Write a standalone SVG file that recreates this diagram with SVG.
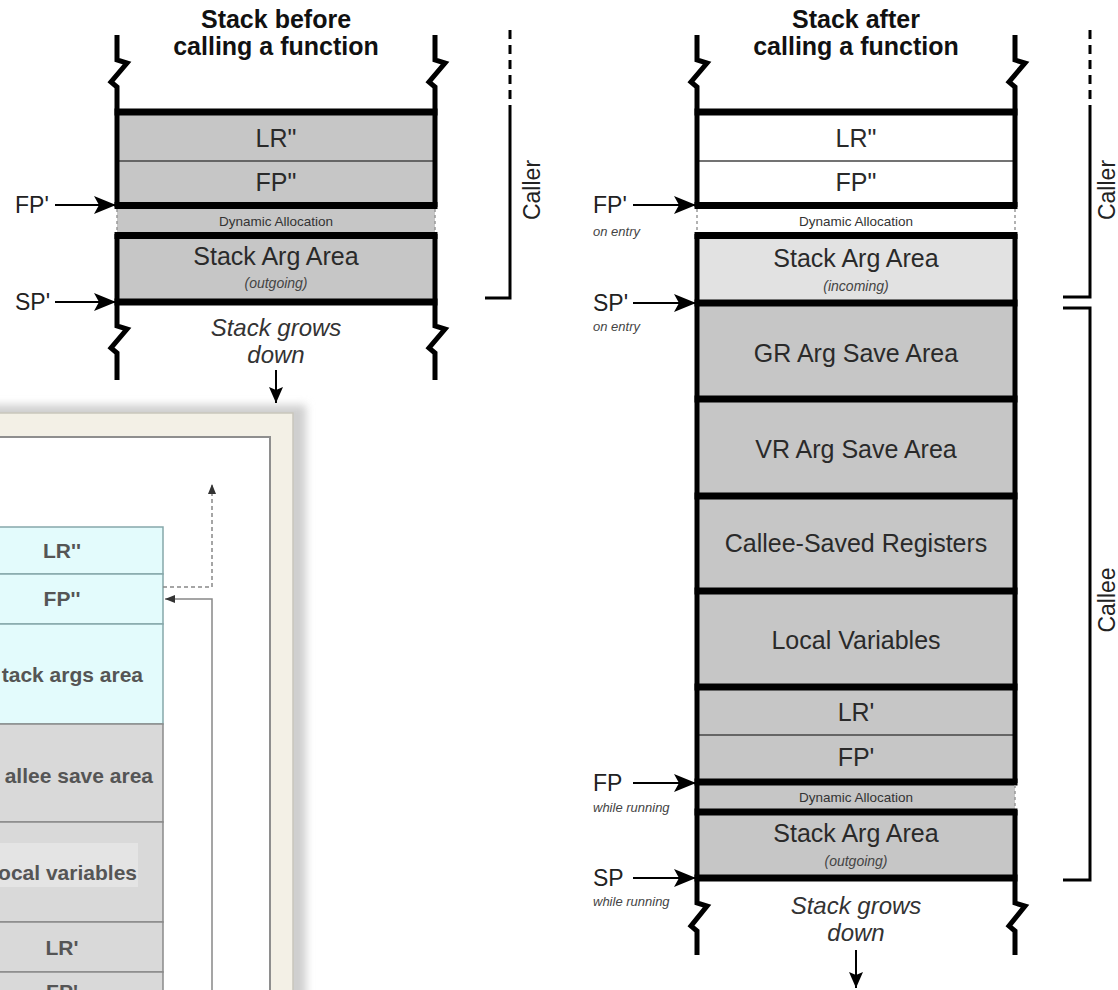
<svg xmlns="http://www.w3.org/2000/svg" width="1118" height="990" viewBox="0 0 1118 990">
<defs>
<style>
text{font-family:"Liberation Sans",Arial,sans-serif}
.title{font-size:25px;font-weight:bold;fill:#111;text-anchor:middle}
.cell{font-size:25px;fill:#2a2a2a;text-anchor:middle;dominant-baseline:central}
.small{font-size:13.5px;fill:#333;text-anchor:middle;dominant-baseline:central}
.sub{font-size:14px;font-style:italic;fill:#444;text-anchor:middle;dominant-baseline:central}
.ptr{font-size:23px;fill:#222;dominant-baseline:central}
.note{font-size:13px;font-style:italic;fill:#444}
.grow{font-size:24px;font-style:italic;fill:#333;text-anchor:middle}
.side{font-size:23px;fill:#222;text-anchor:middle;dominant-baseline:central}
.gray{fill:#c6c6c6}
.light{fill:#e2e2e2}
.white{fill:#fff}
.bar{fill:#000}
.wall{fill:none;stroke:#000;stroke-width:5;stroke-linejoin:miter}
.dyn{stroke:#999;stroke-width:1.5;stroke-dasharray:3 3}
.thin{stroke:#444;stroke-width:1.5}
.arrow{stroke:#000;stroke-width:2;fill:none}
.brk{fill:none;stroke:#000;stroke-width:3}
.dash{stroke-dasharray:9 6}
.pan{font-size:21px;font-weight:bold;fill:#555;dominant-baseline:central}
.cy{fill:#e3fbfc;stroke:#86a8aa;stroke-width:1.5}
.gy{fill:#d9d9d9;stroke:#8a8a8a;stroke-width:1.5}
.pl{fill:none;stroke:#888;stroke-width:1.5}
</style>
<marker id="ptr" markerUnits="userSpaceOnUse" markerWidth="22" markerHeight="18" refX="22" refY="9" orient="auto">
<path d="M0,0 L22,9 L0,18 L5,9 z" fill="#000"/>
</marker>
<marker id="down" markerUnits="userSpaceOnUse" markerWidth="16" markerHeight="14" refX="16" refY="7" orient="auto">
<path d="M0,0 L16,7 L0,14 L3,7 z" fill="#000"/>
</marker>
<marker id="sm" markerUnits="userSpaceOnUse" markerWidth="10" markerHeight="8" refX="10" refY="4" orient="auto">
<path d="M0,0 L10,4 L0,8 z" fill="#333"/>
</marker>
<filter id="blur" x="-10%" y="-10%" width="120%" height="120%"><feGaussianBlur stdDeviation="4"/></filter>
</defs>

<!-- bottom-left screenshot panel -->
<g id="panel">
<rect x="-20" y="405" width="326" height="600" fill="#cfcfcf" filter="url(#blur)"/>
<rect x="-10" y="413" width="303" height="590" fill="#f3f0e6" stroke="#c9c6bc" stroke-width="1.5"/>
<rect x="-10" y="437" width="280" height="570" fill="#fff" stroke="#8e8e8e" stroke-width="2"/>
<rect x="-5" y="527" width="168" height="47" class="cy"/>
<rect x="-5" y="574" width="168" height="50" class="cy"/>
<rect x="-5" y="624" width="168" height="100" class="cy"/>
<rect x="-5" y="724" width="168" height="98" class="gy"/>
<rect x="-5" y="822" width="168" height="100" class="gy"/>
<rect x="-5" y="922" width="168" height="50" class="gy"/>
<rect x="-5" y="972" width="168" height="40" class="gy"/>
<rect x="0" y="843" width="138" height="44" fill="#e4e4e4"/>
<text class="pan" x="62" y="550" text-anchor="middle">LR''</text>
<text class="pan" x="62" y="598" text-anchor="middle">FP''</text>
<text class="pan" x="143" y="674" text-anchor="end">tack args area</text>
<text class="pan" x="153" y="775" text-anchor="end">allee save area</text>
<text class="pan" x="137" y="872" text-anchor="end">ocal variables</text>
<text class="pan" x="62" y="947" text-anchor="middle">LR'</text>
<text x="62" y="999" text-anchor="middle" style="font-size:21px;font-weight:bold;fill:#555">FP'</text>
<path d="M163,587 H212 V484" class="pl" stroke-dasharray="4 3" marker-end="url(#sm)"/>
<path d="M212,990 V599 H165" class="pl" marker-end="url(#sm)"/>
</g>

<!-- left stack -->
<g id="stack-before">
<text class="title" x="276" y="28">Stack before</text>
<text class="title" x="276" y="55">calling a function</text>
<rect class="gray" x="117" y="112" width="318" height="190"/>
<rect class="bar" x="114.5" y="108.5" width="323" height="7"/>
<line class="thin" x1="117" y1="161" x2="435" y2="161"/>
<rect class="bar" x="114.5" y="202" width="323" height="7"/>
<rect class="bar" x="114.5" y="232" width="323" height="7"/>
<rect class="bar" x="114.5" y="298.5" width="323" height="7"/>
<path class="wall" d="M117,35 V60 L127,63 L111,82 L117,87 V207"/>
<path class="wall" d="M117,234 V326 L127,329 L111,348 L117,353 V380"/>
<path class="wall" d="M435,35 V60 L445,63 L429,82 L435,87 V207"/>
<path class="wall" d="M435,234 V326 L445,329 L429,348 L435,353 V380"/>
<line class="dyn" x1="117" y1="209" x2="117" y2="232"/>
<line class="dyn" x1="435" y1="209" x2="435" y2="232"/>
<text class="cell" x="276" y="138">LR"</text>
<text class="cell" x="276" y="182">FP"</text>
<text class="small" x="276" y="221">Dynamic Allocation</text>
<text class="cell" x="276" y="256">Stack Arg Area</text>
<text class="sub" x="276" y="283">(outgoing)</text>
<text class="grow" x="276" y="336">Stack grows</text>
<text class="grow" x="276" y="363">down</text>
<text class="ptr" x="15" y="205">FP'</text>
<text class="ptr" x="15" y="302">SP'</text>
<text class="side" transform="translate(532 190) rotate(-90)">Caller</text>
</g>

<!-- right stack -->
<g id="stack-after">
<text class="title" x="856" y="28">Stack after</text>
<text class="title" x="856" y="55">calling a function</text>
<rect class="white" x="697" y="112" width="318" height="124"/>
<rect class="light" x="697" y="236" width="318" height="66"/>
<rect class="gray" x="697" y="302" width="318" height="576"/>
<rect class="bar" x="694.5" y="108.5" width="323" height="7"/>
<line class="thin" x1="697" y1="161" x2="1015" y2="161"/>
<rect class="bar" x="694.5" y="202" width="323" height="7"/>
<rect class="bar" x="694.5" y="232" width="323" height="7"/>
<rect class="bar" x="694.5" y="299.5" width="323" height="7"/>
<rect class="bar" x="694.5" y="395.5" width="323" height="7"/>
<rect class="bar" x="694.5" y="492.5" width="323" height="7"/>
<rect class="bar" x="694.5" y="587.5" width="323" height="7"/>
<rect class="bar" x="694.5" y="683.5" width="323" height="7"/>
<line class="thin" x1="697" y1="735" x2="1015" y2="735"/>
<rect class="bar" x="694.5" y="778.5" width="323" height="7"/>
<rect class="bar" x="694.5" y="808.5" width="323" height="7"/>
<rect class="bar" x="694.5" y="874.5" width="323" height="7"/>
<path class="wall" d="M697,35 V60 L707,63 L691,82 L697,87 V207"/>
<path class="wall" d="M697,234 V903 L707,906 L691,926 L697,931 V955"/>
<path class="wall" d="M1015,35 V60 L1025,63 L1009,82 L1015,87 V207"/>
<path class="wall" d="M1015,234 V783"/>
<path class="wall" d="M1015,810 V903 L1025,906 L1009,926 L1015,931 V955"/>
<line class="dyn" x1="697" y1="209" x2="697" y2="232"/>
<line class="dyn" x1="1015" y1="209" x2="1015" y2="232"/>
<line class="dyn" x1="1015" y1="785" x2="1015" y2="808"/>
<text class="cell" x="856" y="138">LR"</text>
<text class="cell" x="856" y="182">FP"</text>
<text class="small" x="856" y="221">Dynamic Allocation</text>
<text class="cell" x="856" y="258">Stack Arg Area</text>
<text class="sub" x="856" y="286">(incoming)</text>
<text class="cell" x="856" y="353">GR Arg Save Area</text>
<text class="cell" x="856" y="449">VR Arg Save Area</text>
<text class="cell" x="856" y="543">Callee-Saved Registers</text>
<text class="cell" x="856" y="640">Local Variables</text>
<text class="cell" x="856" y="712">LR'</text>
<text class="cell" x="856" y="757">FP'</text>
<text class="small" x="856" y="797">Dynamic Allocation</text>
<text class="cell" x="856" y="833">Stack Arg Area</text>
<text class="sub" x="856" y="861">(outgoing)</text>
<text class="grow" x="856" y="914">Stack grows</text>
<text class="grow" x="856" y="941">down</text>
<text class="ptr" x="593" y="205">FP'</text>
<text class="note" x="593" y="236">on entry</text>
<text class="ptr" x="593" y="303">SP'</text>
<text class="note" x="593" y="331">on entry</text>
<text class="ptr" x="593" y="783">FP</text>
<text class="note" x="593" y="812">while running</text>
<text class="ptr" x="593" y="878">SP</text>
<text class="note" x="593" y="906">while running</text>
<text class="side" transform="translate(1107 190) rotate(-90)">Caller</text>
<text class="side" transform="translate(1107 600) rotate(-90)">Callee</text>
</g>

<!-- connectors: pointers, brackets, growth arrows -->
<g id="connectors">
<line class="arrow" x1="55" y1="205" x2="116" y2="205" marker-end="url(#ptr)"/>
<line class="arrow" x1="55" y1="302" x2="116" y2="302" marker-end="url(#ptr)"/>
<line class="arrow" x1="633" y1="205" x2="696" y2="205" marker-end="url(#ptr)"/>
<line class="arrow" x1="633" y1="303" x2="696" y2="303" marker-end="url(#ptr)"/>
<line class="arrow" x1="633" y1="783" x2="696" y2="783" marker-end="url(#ptr)"/>
<line class="arrow" x1="633" y1="878" x2="696" y2="878" marker-end="url(#ptr)"/>
<line class="brk dash" x1="510" y1="30" x2="510" y2="110"/>
<path class="brk" d="M510,110 V298 H485"/>
<line class="brk dash" x1="1090" y1="30" x2="1090" y2="110"/>
<path class="brk" d="M1090,110 V297 H1063"/>
<path class="brk" d="M1063,308 H1090 V880 H1063"/>
<line class="arrow" x1="276" y1="370" x2="276" y2="403" marker-end="url(#down)"/>
<line class="arrow" x1="856" y1="950" x2="856" y2="988" marker-end="url(#down)"/>
</g>
</svg>
